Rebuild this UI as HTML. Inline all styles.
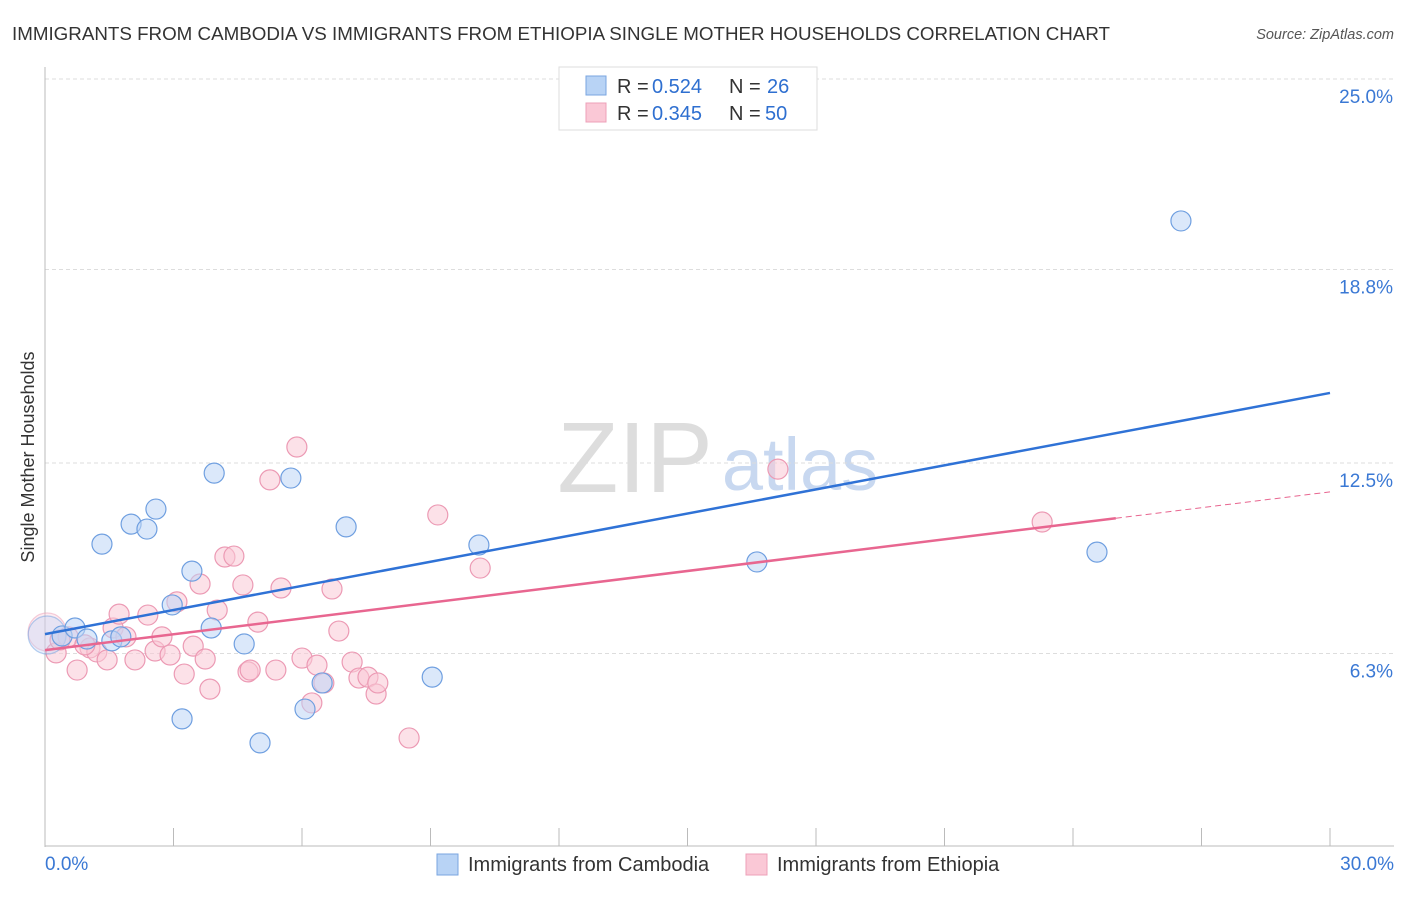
<!DOCTYPE html>
<html><head><meta charset="utf-8"><style>
body{margin:0;background:#fff;font-family:"Liberation Sans",sans-serif}
svg text{font-family:"Liberation Sans",sans-serif}
</style></head><body>
<svg id="chart" width="1406" height="892">
<text x="12" y="40" font-size="18.8" fill="#333" textLength="1098" lengthAdjust="spacingAndGlyphs">IMMIGRANTS FROM CAMBODIA VS IMMIGRANTS FROM ETHIOPIA SINGLE MOTHER HOUSEHOLDS CORRELATION CHART</text>
<text x="1394" y="39" font-size="14.5" fill="#555" font-style="italic" text-anchor="end">Source: ZipAtlas.com</text>
<g><text x="635" y="492" font-size="100" fill="#ddd" font-family="Liberation Serif" text-anchor="middle">ZIP</text><text x="800" y="490" font-size="74" fill="#c8d8f0" text-anchor="middle">atlas</text></g>
<g id="grid"></g><g id="axes"></g><g id="marks"></g>
<text transform="translate(34,457) rotate(-90)" font-size="18" fill="#333" text-anchor="middle">Single Mother Households</text>
<g>
<rect x="559" y="67" width="258" height="63" fill="#fff" stroke="#ddd"/>
<rect x="586" y="76" width="20" height="19" fill="#b8d3f5" stroke="#7aa6e0"/>
<rect x="586" y="103" width="20" height="19" fill="#fac8d6" stroke="#eda0b8"/>
<text x="617" y="93" font-size="20" fill="#333">R =</text><text x="652" y="93" font-size="20" fill="#2e6fd0">0.524</text>
<text x="729" y="93" font-size="20" fill="#333">N =</text><text x="767" y="93" font-size="20" fill="#2e6fd0">26</text>
<text x="617" y="120" font-size="20" fill="#333">R =</text><text x="652" y="120" font-size="20" fill="#2e6fd0">0.345</text>
<text x="729" y="120" font-size="20" fill="#333">N =</text><text x="765" y="120" font-size="20" fill="#2e6fd0">50</text>
</g>
<g>
<rect x="437" y="854" width="21" height="21" fill="#b8d3f5" stroke="#7aa6e0"/>
<text x="468" y="871" font-size="20" fill="#333">Immigrants from Cambodia</text>
<rect x="746" y="854" width="21" height="21" fill="#fac8d6" stroke="#eda0b8"/>
<text x="777" y="871" font-size="20" fill="#333">Immigrants from Ethiopia</text>
</g>
</svg>
<script>
const yTicks=[6.3,12.5,18.8,25.0];
const yTickLabels=["6.3%","12.5%","18.8%","25.0%"];
const xTickLabels=["0.0%","30.0%"];
const cambodiaX=[0.05,0.40,0.70,0.98,1.33,1.56,1.77,2.01,2.38,2.59,2.97,3.20,3.43,3.88,3.95,4.65,5.02,5.74,6.07,6.47,7.03,9.04,10.13,16.62,24.56,26.52];
const cambodiaY=[6.90,6.87,7.13,6.77,9.86,6.71,6.84,10.51,10.35,11.00,7.88,4.17,8.98,7.13,12.17,6.61,3.39,12.01,4.49,5.34,10.42,5.53,9.83,9.28,9.60,20.38];
const ethiopiaX=[0.05,0.26,0.54,0.75,1.05,1.21,1.45,1.59,1.73,1.89,2.10,2.40,2.57,2.73,2.92,3.08,3.25,3.46,3.62,3.74,3.85,4.02,4.20,4.41,4.62,4.74,4.97,5.25,5.39,5.51,5.88,6.00,6.23,6.35,6.51,6.70,6.86,7.17,7.33,7.54,7.73,7.77,8.50,9.17,10.16,17.11,23.28,0.35,0.93,4.79];
const ethiopiaY=[7.00,6.32,6.84,5.76,6.48,6.35,6.09,7.13,7.58,6.84,6.09,7.55,6.38,6.84,6.25,7.98,5.63,6.54,8.56,6.12,5.14,7.71,9.44,9.47,8.53,5.70,7.32,11.95,5.76,8.43,13.02,6.15,4.69,5.92,5.34,8.40,7.03,6.02,5.50,5.53,4.98,5.34,3.55,10.81,9.08,12.30,10.58,6.74,6.58,5.76];
const cambodiaTrend=[6.93,14.78];
const ethiopiaTrend=[6.41,11.56];
const ethiopiaSolidEnd=25.0;
const X=v=>45+v*(1285/30), Y=v=>847-v*30.72;
const NS="http://www.w3.org/2000/svg";
function mk(tag,attrs,parent){const e=document.createElementNS(NS,tag);for(const k in attrs)e.setAttribute(k,attrs[k]);parent.appendChild(e);return e;}
const grid=document.getElementById('grid'),axes=document.getElementById('axes'),marks=document.getElementById('marks');
let g=mk('line',{x1:45,x2:1394,y1:79,y2:79,stroke:'#ddd','stroke-dasharray':'4,3'},grid);


yTicks.forEach((t,i)=>{
 const l=mk('line',{x1:45,x2:1394,y1:Y(t),y2:Y(t),stroke:'#ddd','stroke-dasharray':'4,3'},grid);
 
 
 const tx=mk('text',{x:1393,y:Y(t)+24,'font-size':19,fill:'#3a78d4','text-anchor':'end'},axes);
 tx.textContent=yTickLabels[i];
 
 
});
let a=mk('line',{x1:45,x2:45,y1:67,y2:847,stroke:'#bbb'},axes);


a=mk('line',{x1:45,x2:1394,y1:846,y2:846,stroke:'#bbb'},axes);


for(let i=1;i<=10;i++){const t=mk('line',{x1:X(i*3),x2:X(i*3),y1:828,y2:846,stroke:'#bbb'},axes);
 
 }
[[0,'start',45],[30,'end',1394]].forEach((d,i)=>{const tx=mk('text',{x:d[2],y:870,'font-size':19,fill:'#3a78d4','text-anchor':d[1]},axes);
 tx.textContent=xTickLabels[i];
 
 });
function pts(xs,ys,fill,stroke,name){xs.forEach((x,i)=>{const r=(i==0)?19:10;const c=mk('circle',{cx:X(x),cy:Y(ys[i]),r:r,fill:fill,'fill-opacity':i==0?0.35:0.55,stroke:stroke,'stroke-opacity':i==0?0.5:1,'stroke-width':1.2},marks);
 
 });}
pts(ethiopiaX,ethiopiaY,'#fac8d6','#ec9ab4','point-ethiopia');
pts(cambodiaX,cambodiaY,'#bdd5f5','#6f9fe0','point-cambodia');
const lerp=(t,x)=>t[0]+(t[1]-t[0])*x/30;
let tl=mk('line',{x1:X(0),y1:Y(lerp(cambodiaTrend,0)),x2:X(30),y2:Y(lerp(cambodiaTrend,30)),stroke:'#2f72d6','stroke-width':2.5},marks);


tl=mk('line',{x1:X(0),y1:Y(lerp(ethiopiaTrend,0)),x2:X(ethiopiaSolidEnd),y2:Y(lerp(ethiopiaTrend,ethiopiaSolidEnd)),stroke:'#e86690','stroke-width':2.5},marks);


tl=mk('line',{x1:X(ethiopiaSolidEnd),y1:Y(lerp(ethiopiaTrend,ethiopiaSolidEnd)),x2:X(30),y2:Y(lerp(ethiopiaTrend,30)),stroke:'#e86690','stroke-width':1,'stroke-dasharray':'6,4'},marks);


</script>
</body></html>
